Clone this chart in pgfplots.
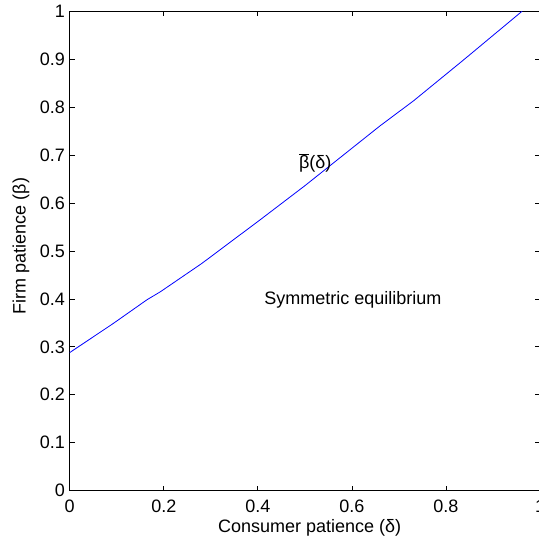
\documentclass[border=0pt]{standalone}
\usepackage{fontspec}
\setmainfont{Liberation Sans}
\usepackage{pgfplots}
\pgfplotsset{compat=1.18}

\begin{document}
\begin{tikzpicture}[font=\fontsize{18}{21}\selectfont]
\begin{axis}[
    name=ax,
    scale only axis,
    width=470.3pt,
    height=479.5pt,
    xmin=0, xmax=1,
    ymin=0, ymax=1,
    xtick={0,0.2,0.4,0.6,0.8,1},
    ytick={0,0.1,0.2,0.3,0.4,0.5,0.6,0.7,0.8,0.9,1},
    tick align=inside,
    major tick length=5pt,
    axis line style={line width=0.9pt},
    tick style={black, line width=0.7pt},
    /pgf/number format/assume math mode=true,
    /pgf/number format/.cd, fixed, precision=1, /pgfplots/.cd,
    xticklabel style={inner sep=0pt, yshift=-9pt},
    yticklabel style={inner sep=0pt, xshift=-4.7pt},
    xlabel={Consumer patience (δ)},
    ylabel={Firm patience (β)},
    xlabel style={at={([yshift=-37pt]axis description cs:0.51,0)}, anchor=center},
    ylabel style={at={([xshift=-48.7pt]axis description cs:0,0.51)}, anchor=center},
]
\addplot[blue, line width=0.8pt] coordinates {
    (0,     0.288)
    (0.093, 0.349)
    (0.164, 0.398)
    (0.193, 0.415)
    (0.281, 0.474)
    (0.405, 0.565)
    (0.5,   0.636)
    (0.66,  0.761)
    (0.731, 0.813)
    (0.837, 0.898)
    (0.962, 1.0)
};
\node at (axis cs:0.522,0.683) {$\overline{\mbox{β}}$(δ)};
\node at (axis cs:0.602,0.398) {Symmetric equilibrium};
\end{axis}
\pgfresetboundingbox
\path[use as bounding box] ([xshift=-69.7pt,yshift=-51.3pt]ax.south west) rectangle ([xshift=-2pt,yshift=11.2pt]ax.north east);
\end{tikzpicture}
\end{document}
